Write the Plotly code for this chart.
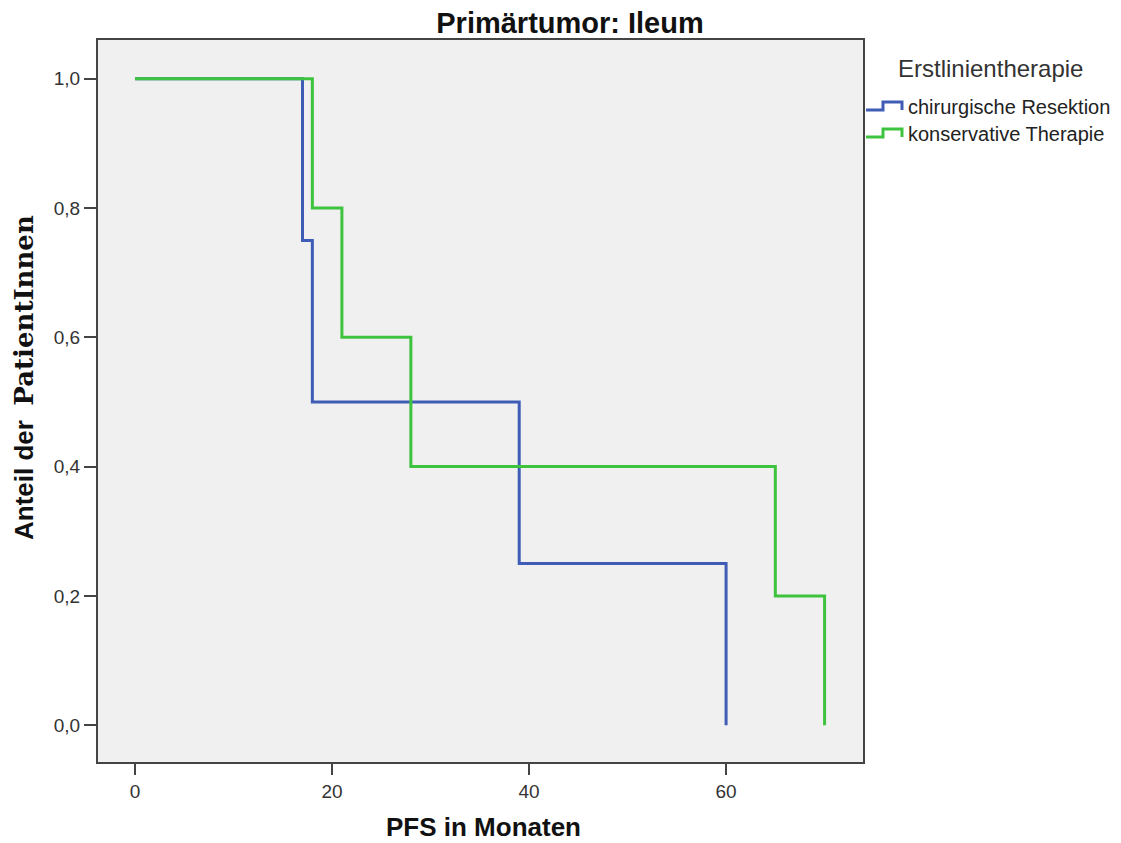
import plotly.graph_objects as go

# Kaplan-Meier step data (time in months, survival proportion)
blue_name = "chirurgische Resektion"
blue_t = [0, 17, 18, 39, 60]
blue_s = [1.0, 0.75, 0.5, 0.25, 0.0]

green_name = "konservative Therapie"
green_t = [0, 18, 21, 28, 65, 70]
green_s = [1.0, 0.8, 0.6, 0.4, 0.2, 0.0]

x_ticks = [0, 20, 40, 60]
y_ticks = [0.0, 0.2, 0.4, 0.6, 0.8, 1.0]

legend_title = "Erstlinientherapie"
BLUE = "#3f5cb6"
GREEN = "#3ec33e"

W, H = 1121, 843
L, R, T, B = 98, 863, 40, 762  # plot area in pixels


def px(x):
    return (x - L) / (R - L)


def py(y):
    return (B - y) / (B - T)


def km_path(t, s):
    xs, ys = [t[0]], [s[0]]
    for i in range(1, len(t)):
        xs += [t[i], t[i]]
        ys += [s[i - 1], s[i]]
    return xs, ys


fig = go.Figure()
bx, by = km_path(blue_t, blue_s)
gx, gy = km_path(green_t, green_s)
fig.add_trace(go.Scatter(x=bx, y=by, mode="lines", name=blue_name, showlegend=False,
                         line=dict(color=BLUE, width=3)))
fig.add_trace(go.Scatter(x=gx, y=gy, mode="lines", name=green_name, showlegend=False,
                         line=dict(color=GREEN, width=3)))

font_family = "Liberation Sans, Arial, sans-serif"

# custom legend with step glyphs
shapes = []
annotations = []
for i, (name, col) in enumerate([(blue_name, BLUE), (green_name, GREEN)]):
    yb = 110 + 27 * i
    pts = [(866, yb), (883, yb), (883, yb - 8), (902, yb - 8), (902, yb)]
    path = "M " + " L ".join(f"{px(a):.5f},{py(b):.5f}" for a, b in pts)
    shapes.append(dict(type="path", xref="paper", yref="paper", path=path,
                       line=dict(color=col, width=3)))
    annotations.append(dict(text=name, xref="paper", yref="paper", x=px(906), y=py(yb - 3),
                            xanchor="left", yanchor="middle", showarrow=False,
                            font=dict(size=20, color="#222222", family=font_family)))
annotations.append(dict(text=legend_title, xref="paper", yref="paper", x=px(990), y=py(69),
                        xanchor="center", yanchor="middle", showarrow=False,
                        font=dict(size=24, color="#333333", family=font_family)))
# axis titles
annotations.append(dict(text="<b>PFS in Monaten</b>", xref="paper", yref="paper",
                        x=px(483), y=py(827), xanchor="center", yanchor="middle",
                        showarrow=False, font=dict(size=26, color="#111111", family=font_family)))
annotations.append(dict(text="<b>Anteil der  </b><span style='font-family:DejaVu Serif, Liberation Serif, serif'><b>PatientInnen</b></span>",
                        xref="paper", yref="paper", textangle=-90,
                        x=px(24), y=py(378), xanchor="center", yanchor="middle",
                        showarrow=False, font=dict(size=26, color="#111111", family=font_family)))

fig.update_layout(
    width=W, height=H,
    margin=dict(l=L, r=W - R, t=T, b=H - B, autoexpand=False),
    paper_bgcolor="white",
    plot_bgcolor="#f0f0f0",
    separators=",.",
    font=dict(family=font_family, color="#222222"),
    title=dict(text="<b>Primärtumor: Ileum</b>", x=570 / W, xanchor="center",
               yref="container", y=1 - 23 / H, yanchor="middle",
               font=dict(size=29, color="#111111")),
    showlegend=False,
    shapes=shapes,
    annotations=annotations,
    xaxis=dict(range=[-3.76, 73.9], tickvals=x_ticks, ticks="outside", ticklen=11,
               tickwidth=2, tickcolor="#444444", showgrid=False, zeroline=False,
               showline=True, linecolor="#444444", linewidth=2, mirror=True,
               automargin=False, tickfont=dict(size=19, color="#333333")),
    yaxis=dict(range=[-0.057, 1.06], tickvals=y_ticks, tickformat=".1f", ticks="outside",
               ticklen=12, tickwidth=2, tickcolor="#444444", showgrid=False, zeroline=False,
               showline=True, linecolor="#444444", linewidth=2, mirror=True,
               automargin=False, tickfont=dict(size=19, color="#333333")),
)

fig.write_html("out.html")
